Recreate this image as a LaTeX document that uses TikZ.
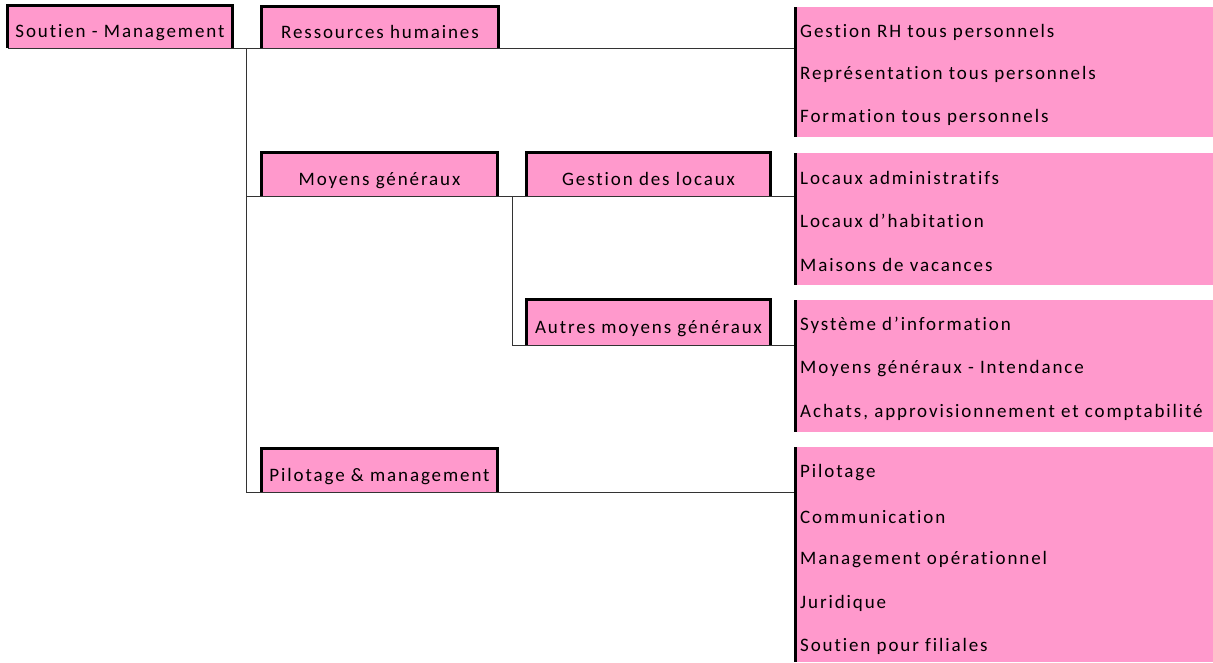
\documentclass[tikz,border=0pt]{standalone}
\usepackage{fontspec}
\setmainfont[LetterSpace=10,Ligatures={NoCommon}]{Carlito}
\usepackage{tikz}
\definecolor{rose}{HTML}{FF99CC}
\tikzset{
  box/.style={fill=rose,inner sep=0pt,text height=25pt,text depth=4pt,font=\fontsize{19}{22}\selectfont},
  leaf/.style={fill=rose,inner sep=0pt,anchor=north west,minimum width=418pt},
  item/.style={anchor=west,inner sep=0pt,font=\fontsize{19}{22}\selectfont},
  rim/.style={line width=3pt,black},
  conn/.style={line width=1pt,black!80}
}
\begin{document}
\begin{tikzpicture}[x=1pt,y=-1pt]
    \useasboundingbox (0,0) rectangle (1213,662);

    \node[leaf,minimum height=130pt] (lrh) at (795,7) {};
    \node[leaf,minimum height=132pt] (lloc) at (795,153) {};
    \node[leaf,minimum height=132pt] (laut) at (795,300) {};
    \node[leaf,minimum height=215pt] (lpil) at (795,447) {};

    \node[box,minimum width=224pt,minimum height=42pt] (sm) at (120,27) {Soutien - Management};
    \node[box,minimum width=236pt,minimum height=41pt] (rh) at (380,27.5) {Ressources humaines};
    \node[box,minimum width=235pt,minimum height=43pt] (mg) at (379.5,174.5) {Moyens généraux};
    \node[box,minimum width=243pt,minimum height=43pt] (gl) at (648.5,174.5) {Gestion des locaux};
    \node[box,minimum width=243pt,minimum height=45pt] (amg) at (648.5,322.5) {Autres moyens généraux};
    \node[box,minimum width=235pt,minimum height=43pt] (pm) at (379.5,470.5) {Pilotage \& management};

    \coordinate (j1) at (246,48);
    \coordinate (j2) at (246,196);
    \coordinate (j3) at (246,492);
    \coordinate (k1) at (512,196);
    \coordinate (k2) at (512,345);

    \draw[conn] (sm.south west) -- (lrh.west |- sm.south);
    \draw[conn] (j1) -- (j3) -- (lpil.west |- j3);
    \draw[conn] (j2) -- (lloc.west |- j2);
    \draw[conn] (k1) -- (k2) -- (laut.west |- k2);

    \foreach \n in {sm,rh,mg,gl,amg,pm}
      \draw[rim] (\n.south west) -- (\n.north west) -- (\n.north east) -- (\n.south east);
    \foreach \n in {lrh,lloc,laut,lpil}
      \draw[rim] (\n.north west) -- (\n.south west);

    \node[item] (rh1) at (800,32) {Gestion RH tous personnels};
    \node[item] (rh2) at (800,74) {Représentation tous personnels};
    \node[item] (rh3) at (800,117) {Formation tous personnels};

    \node[item] (loc1) at (800,178) {Locaux administratifs};
    \node[item] (loc2) at (800,221) {Locaux d'habitation};
    \node[item] (loc3) at (800,265) {Maisons de vacances};

    \node[item] (aut1) at (800,325) {Système d'information};
    \node[item] (aut2) at (800,369) {Moyens généraux - Intendance};
    \node[item] (aut3) at (800,412) {Achats, approvisionnement et comptabilité};

    \node[item] (pil1) at (800,473) {Pilotage};
    \node[item] (pil2) at (800,517) {Communication};
    \node[item] (pil3) at (800,560) {Management opérationnel};
    \node[item] (pil4) at (800,603) {Juridique};
    \node[item] (pil5) at (800,646) {Soutien pour filiales};
\end{tikzpicture}
\end{document}
